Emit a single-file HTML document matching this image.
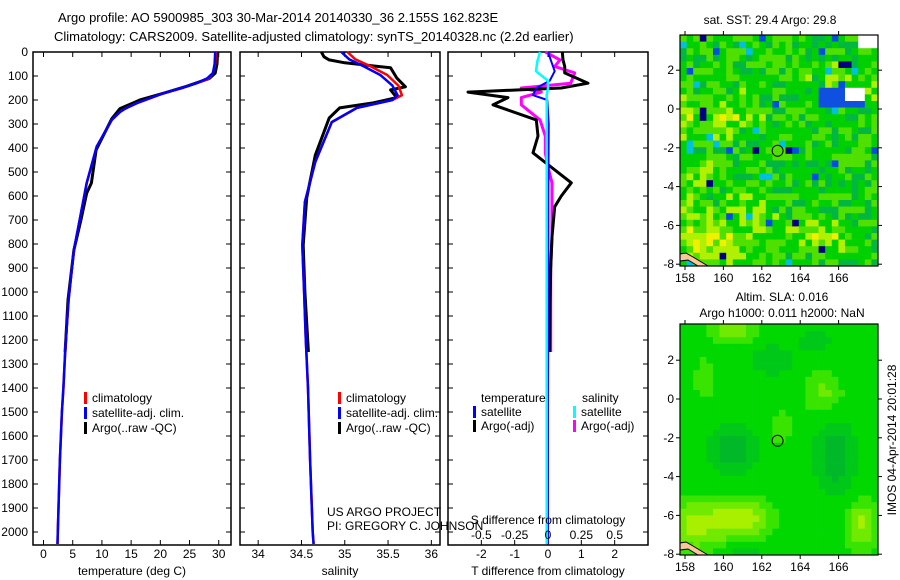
<!DOCTYPE html>
<html><head><meta charset="utf-8"><style>
html,body{margin:0;padding:0;background:#fff;}
svg{display:block;font-family:"Liberation Sans",sans-serif;}
</style></head><body>
<svg id="fig" width="900" height="580" viewBox="0 0 900 580">
<text x="58" y="22" font-size="13">Argo profile: AO 5900985_303 30-Mar-2014 20140330_36 2.155S 162.823E</text>
<text x="54" y="41" font-size="13">Climatology: CARS2009. Satellite-adjusted climatology: synTS_20140328.nc (2.2d earlier)</text>
<g id="p1"></g>
<g id="p2"></g>
<g id="p3"></g>
<g id="m1"></g>
<g id="m2"></g>
<text x="770" y="24" font-size="12" text-anchor="middle">sat. SST: 29.4 Argo: 29.8</text>
<text x="782" y="301" font-size="12" text-anchor="middle">Altim. SLA: 0.016</text>
<text x="782" y="317" font-size="12" text-anchor="middle">Argo h1000: 0.011 h2000: NaN</text>
<text transform="translate(896,440) rotate(-90)" font-size="12" text-anchor="middle">IMOS 04-Apr-2014 20:01:28</text>
<text x="327" y="516" font-size="12">US ARGO PROJECT</text>
<text x="327" y="530" font-size="12">PI: GREGORY C. JOHNSON</text>
</svg>
<script>
// ---- data ----
const tDepth=[0,50,88,110,130,150,172,200,213,236,250,283,394,546,686,825,1033,1229,1400,1500,1700,2000,2050];
const tClim =[29.5,29.4,29.0,28.3,26.2,23.8,20.5,17.5,16.0,14.0,13.1,11.7,9.1,7.4,6.3,5.2,4.3,3.75,3.4,3.15,2.8,2.45,2.4];
const tSat  =[29.4,29.3,29.0,28.0,26.2,23.6,20.5,17.4,16.0,14.0,13.1,11.7,9.1,7.4,6.3,5.2,4.3,3.75,3.4,3.15,2.8,2.45,2.4];
const argoTDepth=[0,50,88,110,143,172,200,236,278,408,546,588,700,825,1033,1229,1250];
const argoT     =[29.8,29.7,29.4,28.4,24.5,20.5,16.5,13.1,11.7,9.0,8.2,7.4,6.4,5.2,4.2,3.75,3.7];
const sDepth=[0,30,60,96,140,180,200,233,292,458,625,805,1000,1200,1400,1700,2000,2050];
const sClim =[35.03,35.12,35.3,35.49,35.62,35.66,35.55,35.14,34.85,34.66,34.54,34.51,34.53,34.55,34.575,34.6,34.63,34.64];
const sSat  =[34.96,35.05,35.22,35.41,35.55,35.61,35.55,35.14,34.85,34.66,34.54,34.51,34.53,34.55,34.575,34.6,34.63,34.64];
const argoSDepth=[0,20,33,45,66,108,145,158,190,212,233,275,430,608,805,1000,1250];
const argoS     =[34.73,34.76,34.82,35.0,35.53,35.6,35.7,35.53,35.6,35.33,34.94,34.82,34.66,34.56,34.52,34.54,34.58];
const dDepth=[0,33,60,87,130,150,167,190,220,283,350,420,480,545,600,645,770,900,1050,1250];
const dTArgo=[0.43,0.45,0.5,0.5,1.2,0.4,-2.4,-1.2,-1.65,-0.35,-0.3,-0.45,0.1,0.7,0.4,0.2,0.12,0.08,0.06,0.05];
const dSArgo=[-0.02,0.09,0.05,0.2,0.17,-0.2,-0.05,-0.2,-0.2,-0.06,-0.02,-0.02,0.0,0.03,0.03,0.03,0.03,0.02,0.02,0.02];
const dSatDepth=[0,40,80,120,150,180,200,300,600,1000,1500,2050];
const dTSat=[0.0,0.1,0.2,0.05,-0.35,-0.45,-0.02,0.02,0.01,0.01,0.0,0.0];
const dSSat=[-0.06,-0.08,-0.09,0.0,0.0,-0.01,-0.01,-0.01,-0.01,-0.01,-0.01,-0.01];
const depthTicks=[0,100,200,300,400,500,600,700,800,900,1000,1100,1200,1300,1400,1500,1600,1700,1800,1900,2000];
const tTicks=[0,5,10,15,20,25,30];
const sTicks=[34,34.5,35,35.5,36];
const dTTicks=[-2,-1,0,1,2];
const dSTickLabels=["-0.5","-0.25","0","0.25","0.5"];
const dSTicks=[-0.5,-0.25,0,0.25,0.5];
const latTicks=[2,0,-2,-4,-6,-8];
const lonTicks=[158,160,162,164,166];
const argoLon=162.823, argoLat=-2.155;

const NS='http://www.w3.org/2000/svg';
function mk(parent,tag,attrs){const e=document.createElementNS(NS,tag);for(const k in attrs)e.setAttribute(k,attrs[k]);parent.appendChild(e);return e;}
const TOP=52,BOT=545;
const yD=d=>TOP+d*0.24;

function panel(g,x0,x1,xmin,xmax,ticks,labels,showY){
  const xs=v=>x0+(v-xmin)/(xmax-xmin)*(x1-x0);
  const fr=mk(g,'rect',{x:x0,y:TOP,width:x1-x0,height:BOT-TOP,fill:'none',stroke:'#000','stroke-width':1.5});
  
  
  depthTicks.forEach(d=>{
    const y=yD(d);
    const t1=mk(g,'line',{x1:x0,x2:x0+5,y1:y,y2:y,stroke:'#000'});
    
    
    const t2=mk(g,'line',{x1:x1-5,x2:x1,y1:y,y2:y,stroke:'#000'});
    
    
    if(showY){const tl=mk(g,'text',{x:x0-5,y:y+4,'font-size':12,'text-anchor':'end'});tl.textContent=d;
      
      }
  });
  ticks.forEach((v,i)=>{
    const x=xs(v);
    const a=mk(g,'line',{x1:x,x2:x,y1:BOT-5,y2:BOT,stroke:'#000'});
    
    
    const b=mk(g,'line',{x1:x,x2:x,y1:TOP,y2:TOP+5,stroke:'#000'});
    
    
    const tl=mk(g,'text',{x:x,y:558,'font-size':12,'text-anchor':'middle'});tl.textContent=labels?labels[i]:v;
    
    
  });
  return xs;
}
function line(g,xs,vals,depths,color,w,name){
  const pts=vals.map((v,i)=>xs(v).toFixed(1)+','+yD(depths[i]).toFixed(1)).join(' ');
  const p=mk(g,'polyline',{points:pts,fill:'none',stroke:color,'stroke-width':w,'stroke-linejoin':'round'});
  
  
}
function legend(g,x,y,color,label,name){
  const r=mk(g,'rect',{x:x,y:y-10,width:3,height:12,fill:color});
  
  
  const t=mk(g,'text',{x:x+8,y:y,'font-size':12});t.textContent=label;
  
  
}
function xtitle(g,x,label,name){const t=mk(g,'text',{x:x,y:575,'font-size':12,'text-anchor':'middle'});t.textContent=label;
  
  }

// panel 1
const p1=document.getElementById('p1');
const xT=panel(p1,33,231,-1.8,32.1,tTicks,null,true);
line(p1,xT,argoT,argoTDepth,'#000',3,'argo-temperature-line');
line(p1,xT,tClim,tDepth,'#f00',2.5,'climatology-temperature-line');
line(p1,xT,tSat,tDepth,'#00f',2.5,'satellite-temperature-line');
legend(p1,84,402,'#f00','climatology','legend-climatology');
legend(p1,84,417,'#00f','satellite-adj. clim.','legend-satellite');
legend(p1,84,432,'#000','Argo(..raw -QC)','legend-argo');
xtitle(p1,132,'temperature (deg C)','x-axis-title-temperature');

// panel 2
const p2=document.getElementById('p2');
const xS=panel(p2,240,440,33.79,36.1,sTicks,null,false);
line(p2,xS,argoS,argoSDepth,'#000',3,'argo-salinity-line');
line(p2,xS,sClim,sDepth,'#f00',2.5,'climatology-salinity-line');
line(p2,xS,sSat,sDepth,'#00f',2.5,'satellite-salinity-line');
legend(p2,338,402,'#f00','climatology','legend-climatology-s');
legend(p2,338,417,'#00f','satellite-adj. clim.','legend-satellite-s');
legend(p2,338,432,'#000','Argo(..raw -QC)','legend-argo-s');
xtitle(p2,340,'salinity','x-axis-title-salinity');

// panel 3
const p3=document.getElementById('p3');
const xDT=panel(p3,448,648,-3,3,dTTicks,null,false);
const xDS=v=>xDT(v*4);
line(p3,xDS,dSArgo,dDepth,'#f0f',3,'argo-salinity-diff-line');
line(p3,xDT,dTArgo,dDepth,'#000',3,'argo-temperature-diff-line');
line(p3,xDT,dTSat,dSatDepth,'#00f',2,'satellite-temperature-diff-line');
line(p3,xDS,dSSat,dSatDepth,'#0ff',2.5,'satellite-salinity-diff-line');
dSTicks.forEach((v,i)=>{const t=mk(p3,'text',{x:xDS(v),y:539,'font-size':12,'text-anchor':'middle'});t.textContent=dSTickLabels[i];
  
  });
{const t=mk(p3,'text',{x:548,y:524,'font-size':12,'text-anchor':'middle'});t.textContent='S difference from climatology';
  
  }
{const t=mk(p3,'text',{x:481,y:402,'font-size':12});t.textContent='temperature';
  
  }
{const t=mk(p3,'text',{x:582,y:402,'font-size':12});t.textContent='salinity';
  
  }
legend(p3,473,416,'#00f','satellite','legend-t-satellite');
legend(p3,473,430,'#000','Argo(-adj)','legend-t-argo');
legend(p3,573,416,'#0ff','satellite','legend-s-satellite');
legend(p3,573,430,'#f0f','Argo(-adj)','legend-s-argo');
xtitle(p3,548,'T difference from climatology','x-axis-title-tdiff');

// ---- maps ----
const MX0=680,MX1=878;
const lonX=l=>685+(l-158)*19.2;
function gauss(lon,lat,c){const dx=(lon-c[0])/c[2],dy=(lat-c[1])/c[3];return c[4]*Math.exp(-(dx*dx+dy*dy));}
function hash(i,j){let h=(i*374761393+j*668265263)^0x5bd1e995;h=(h^(h>>>13))*1274126177;h=h^(h>>>16);return ((h>>>0)%1000)/1000;}
const sstBlobs=[[159,-6.8,2.2,1.0,0.75],[159.5,-0.3,2.2,0.9,0.55],[165,-6.6,1.5,0.9,0.55],[166.5,1.2,1.5,0.8,0.35],[158.5,-3.5,0.8,1.5,0.35],[161,-5,1.5,0.8,0.3]];
const slaBlobs=[[160.8,-6.2,1.5,1.0,0.8],[158.5,-6.5,1.2,1.2,0.6],[167.2,-6.5,0.8,1.2,0.6],[160.5,3.5,1.0,0.6,0.6],[165.2,0.3,1.0,1.2,0.35],[163,-1.5,0.5,0.9,0.3],[159,1,0.6,1.2,0.25],[160.5,-2.6,1.2,1.2,-0.6],[165.8,-3,1.0,1.8,-0.6],[162.5,2,1.2,0.8,-0.35],[164.8,3,1.0,0.6,-0.3],[161.2,-7.9,0.8,0.5,-0.4]];
function drawMap(g,y0,y1,latY,isSST){
  const cw=6.6,ch=6.6;
  const cols=Math.ceil((MX1-MX0)/cw),rows=Math.ceil((y1-y0)/ch);
  for(let i=0;i<cols;i++)for(let j=0;j<rows;j++){
    const x=MX0+i*cw,y=y0+j*ch;
    const lon=158+(x+cw/2-685)/19.2, lat=(latY(0)-(y+ch/2))/19.4;
    let v=0;(isSST?sstBlobs:slaBlobs).forEach(b=>v+=gauss(lon,lat,b));
    let col;
    if(isSST){
      const n=hash(i,j),n2=hash(j+7,i+3);
      v+= (n-0.5)*0.8;
      if(n2>0.988)col='#000080';else if(n2>0.975)col='#0050e0';else if(n2>0.95)col='#00c0e0';
      else if(v>1.05)col='#ffb000';else if(v>0.7)col='#f0f000';else if(v>0.42)col='#b0f000';else if(v>0.15)col='#50e000';
      else if(v>-0.2)col='#00d000';else col='#00b840';
      if(lon>165 && lon<167.3 && lat>0.1 && lat<1.1){col=(lon>166.2&&lat>0.3)?'#ffffff':'#1050e0';}
      if(lon>167 && lat>3.1)col='#ffffff';
    }else{
      if(v>0.55)col='#a8f000';else if(v>0.3)col='#70ea00';else if(v>0.12)col='#38e400';else if(v>-0.15)col='#00d800';else if(v>-0.4)col='#00c818';else col='#00b828';
    }
    const r=mk(g,'rect',{x:x.toFixed(1),y:y.toFixed(1),width:Math.min(cw,MX1-x)+0.3,height:Math.min(ch,y1-y)+0.3,fill:col});
    
    
  }
  const c=mk(g,'polygon',{points:`680,${y1-12} 686,${y1-13} 693,${y1-9} 703,${y1-3} 708,${y1} 698,${y1} 688,${y1-6} 680,${y1-5}`,fill:'#f8c898',stroke:'#000','stroke-width':1});
  
  
  const fr=mk(g,'rect',{x:MX0,y:y0,width:MX1-MX0,height:y1-y0,fill:'none',stroke:'#000','stroke-width':1.2});
  
  
  latTicks.forEach(l=>{const y=latY(l);
    const t=mk(g,'line',{x1:MX0-4,x2:MX0,y1:y,y2:y,stroke:'#000'});
    
    
    const t2=mk(g,'line',{x1:MX1,x2:MX1+4,y1:y,y2:y,stroke:'#000'});
    
    
    const tl=mk(g,'text',{x:MX0-6,y:y+4,'font-size':12,'text-anchor':'end'});tl.textContent=l;
    
    });
  lonTicks.forEach(l=>{const x=lonX(l);
    const t=mk(g,'line',{x1:x,x2:x,y1:y1,y2:y1+4,stroke:'#000'});
    
    
    const t2=mk(g,'line',{x1:x,x2:x,y1:y0-4,y2:y0,stroke:'#000'});
    
    
    const tl=mk(g,'text',{x:x,y:y1+16,'font-size':12,'text-anchor':'middle'});tl.textContent=l;
    
    });
  const ci=mk(g,'circle',{cx:lonX(argoLon),cy:latY(argoLat),r:5.5,fill:'none',stroke:'#000','stroke-width':1});
  
  
}
drawMap(document.getElementById('m1'),35,266,l=>109-l*19.4,true);
drawMap(document.getElementById('m2'),324,555,l=>399-l*19.4,false);
</script>
</body></html>
